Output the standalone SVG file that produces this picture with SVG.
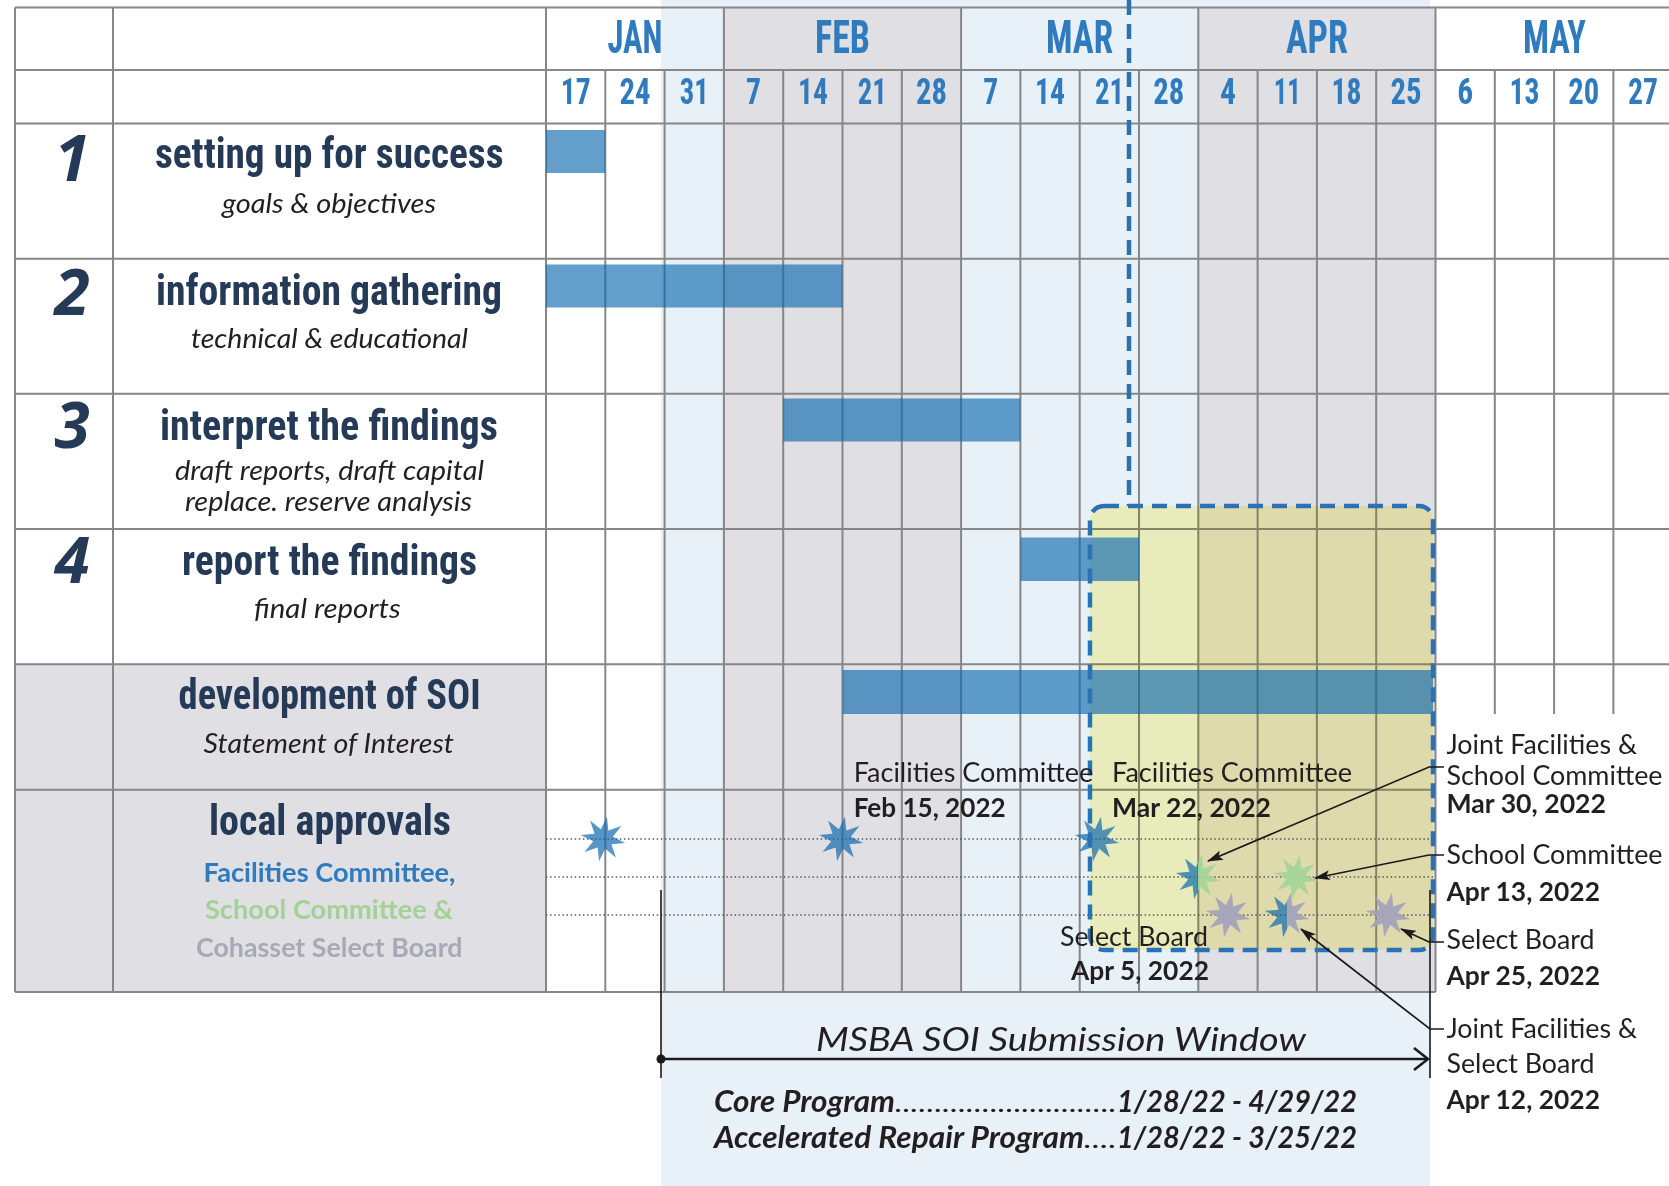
<svg xmlns="http://www.w3.org/2000/svg" xmlns:xlink="http://www.w3.org/1999/xlink" width="1669" height="1186" viewBox="0 0 1669 1186">
<style>
.grid{stroke:#878787;stroke-width:2;fill:none}
.cond{font-family:'Liberation Sans Narrow','Roboto Condensed',Roboto,sans-serif;font-weight:bold}
.mon{fill:#2f7bbd;font-size:47px}
.day{fill:#2f7bbd;font-size:36px;text-anchor:middle}
.ttl{fill:#253a57;font-size:43px}
.num{font-family:'Open Sans',sans-serif;font-weight:bold;font-style:italic;font-size:64px;fill:#253a57;text-anchor:middle}
.sub{font-family:Lato,'Open Sans',sans-serif;font-style:italic;font-size:27px;fill:#231f20}
.leg{font-family:Lato,'Open Sans',sans-serif;font-weight:bold;font-size:27px}
.ann{font-family:Lato,'Open Sans',sans-serif;font-size:27px;fill:#231f20}
.b{font-weight:bold}
.bar{fill:#0967af;fill-opacity:0.63}
.sb{fill:#0f6aae;fill-opacity:0.7}
.sg{fill:#a4d497;fill-opacity:0.9}
.sy{fill:#a2a3bd;fill-opacity:0.92}
.dot{stroke:#5a5a5a;stroke-width:1.4;stroke-dasharray:1.5 2.6;fill:none}
.conn{stroke:#1a1a1a;stroke-width:1.7;fill:none}
.win{font-family:Lato,'Open Sans',sans-serif;font-style:italic;fill:#231f20}
</style>
<defs>
<path id="star" d="M3.91,-22.16 L5.37,-8.43 L18.43,-12.91 L9.76,-2.16 L22.16,3.91 L8.43,5.37 L12.91,18.43 L2.16,9.76 L-3.91,22.16 L-5.37,8.43 L-18.43,12.91 L-9.76,2.16 L-22.16,-3.91 L-8.43,-5.37 L-12.91,-18.43 L-2.16,-9.76 Z"/>
<clipPath id="leftHalf"><rect x="-30" y="-30" width="30" height="60"/></clipPath>
<clipPath id="rightHalf"><rect x="0" y="-30" width="30" height="60"/></clipPath>
<marker id="ah" viewBox="0 0 16 10" refX="15" refY="5" markerWidth="16" markerHeight="10" markerUnits="userSpaceOnUse" orient="auto">
<path d="M0,0 L16,5 L0,10 L3.5,5 Z" fill="#1a1a1a"/>
</marker>
</defs>

<g id="background">
<rect x="0" y="0" width="1669" height="1186" fill="#ffffff"/>
<rect x="661" y="0" width="769" height="1186" fill="#e8f0f8"/>
<rect x="723.9" y="7.5" width="237.2" height="984.5" fill="#dfdfe4"/>
<rect x="1198.3" y="7.5" width="237.2" height="984.5" fill="#dfdfe4"/>
<rect x="15" y="664.2" width="531" height="327.8" fill="#dfdfe4"/>
</g>

<g id="grid" class="grid">
<path d="M15,7.5V992 M113,7.5V992 M546,7.5V992 M723.9,7.5V992 M961.1,7.5V992 M1198.3,7.5V992 M1435.5,7.5V992
M605.3,70V992 M664.6,70V992 M783.2,70V992 M842.5,70V992 M901.8,70V992 M1020.4,70V992 M1079.7,70V992 M1139,70V992 M1257.6,70V992 M1316.9,70V992 M1376.2,70V992
M1494.8,70V714 M1554.1,70V714 M1613.4,70V714"/>
<path d="M15,7.5H1669 M15,70H1669 M15,123.5H1669 M15,258.7H1669 M15,393.8H1669 M15,529H1669 M15,664.2H1669 M15,789.8H1435.5 M15,992H1435.5"/>
</g>

<g id="soi-window-highlight">
<rect x="1090" y="506" width="343" height="444" rx="14" fill="#fffabf" style="mix-blend-mode:multiply"/>
</g>

<g id="approval-guides">
<path class="dot" d="M546,839H1433 M546,877H1433 M546,915H1433"/>
</g>

<g id="header">
<text class="cond mon" x="607.5" y="53" textLength="55" lengthAdjust="spacingAndGlyphs">JAN</text>
<text class="cond mon" x="815" y="53" textLength="55" lengthAdjust="spacingAndGlyphs">FEB</text>
<text class="cond mon" x="1046" y="53" textLength="67" lengthAdjust="spacingAndGlyphs">MAR</text>
<text class="cond mon" x="1286" y="53" textLength="62" lengthAdjust="spacingAndGlyphs">APR</text>
<text class="cond mon" x="1523" y="53" textLength="63" lengthAdjust="spacingAndGlyphs">MAY</text>
<text class="cond day" x="575.7" y="104" textLength="30" lengthAdjust="spacingAndGlyphs">17</text>
<text class="cond day" x="635" y="104" textLength="31" lengthAdjust="spacingAndGlyphs">24</text>
<text class="cond day" x="694.3" y="104" textLength="29" lengthAdjust="spacingAndGlyphs">31</text>
<text class="cond day" x="753.6" y="104" textLength="15" lengthAdjust="spacingAndGlyphs">7</text>
<text class="cond day" x="812.9" y="104" textLength="30" lengthAdjust="spacingAndGlyphs">14</text>
<text class="cond day" x="872.2" y="104" textLength="29" lengthAdjust="spacingAndGlyphs">21</text>
<text class="cond day" x="931.5" y="104" textLength="31" lengthAdjust="spacingAndGlyphs">28</text>
<text class="cond day" x="990.8" y="104" textLength="15" lengthAdjust="spacingAndGlyphs">7</text>
<text class="cond day" x="1050.1" y="104" textLength="30" lengthAdjust="spacingAndGlyphs">14</text>
<text class="cond day" x="1109.4" y="104" textLength="29" lengthAdjust="spacingAndGlyphs">21</text>
<text class="cond day" x="1168.7" y="104" textLength="31" lengthAdjust="spacingAndGlyphs">28</text>
<text class="cond day" x="1228" y="104" textLength="16" lengthAdjust="spacingAndGlyphs">4</text>
<text class="cond day" x="1287.3" y="104" textLength="27" lengthAdjust="spacingAndGlyphs">11</text>
<text class="cond day" x="1346.6" y="104" textLength="30" lengthAdjust="spacingAndGlyphs">18</text>
<text class="cond day" x="1405.9" y="104" textLength="31" lengthAdjust="spacingAndGlyphs">25</text>
<text class="cond day" x="1465.2" y="104" textLength="16" lengthAdjust="spacingAndGlyphs">6</text>
<text class="cond day" x="1524.5" y="104" textLength="30" lengthAdjust="spacingAndGlyphs">13</text>
<text class="cond day" x="1583.8" y="104" textLength="31" lengthAdjust="spacingAndGlyphs">20</text>
<text class="cond day" x="1643.1" y="104" textLength="30" lengthAdjust="spacingAndGlyphs">27</text>
</g>

<g id="row-1">
<text class="num" x="72" y="181">1</text>
<text class="cond ttl" x="155" y="168" textLength="348.5" lengthAdjust="spacingAndGlyphs">setting up for success</text>
<text class="sub" x="222" y="212.7" textLength="214" lengthAdjust="spacingAndGlyphs">goals &amp; objectives</text>
<rect class="bar" x="546" y="130" width="59.3" height="43"/>
</g>

<g id="row-2">
<text class="num" x="72" y="315">2</text>
<text class="cond ttl" x="156" y="305" textLength="346" lengthAdjust="spacingAndGlyphs">information gathering</text>
<text class="sub" x="191" y="348.3" textLength="277" lengthAdjust="spacingAndGlyphs">technical &amp; educational</text>
<rect class="bar" x="546" y="264.5" width="296.5" height="43"/>
</g>

<g id="row-3">
<text class="num" x="72" y="448">3</text>
<text class="cond ttl" x="160" y="440" textLength="338" lengthAdjust="spacingAndGlyphs">interpret the findings</text>
<text class="sub" x="175" y="480" textLength="309" lengthAdjust="spacingAndGlyphs">draft reports, draft capital</text>
<text class="sub" x="185" y="510.7" textLength="287" lengthAdjust="spacingAndGlyphs">replace. reserve analysis</text>
<rect class="bar" x="783.2" y="398.5" width="237.2" height="43"/>
</g>

<g id="row-4">
<text class="num" x="72" y="583">4</text>
<text class="cond ttl" x="182" y="575" textLength="295" lengthAdjust="spacingAndGlyphs">report the findings</text>
<text class="sub" x="254" y="618" textLength="146.7" lengthAdjust="spacingAndGlyphs">final reports</text>
<rect class="bar" x="1020.4" y="537.5" width="118.6" height="43.5"/>
</g>

<g id="row-soi">
<text class="cond ttl" x="178.6" y="708.5" textLength="302" lengthAdjust="spacingAndGlyphs">development of SOI</text>
<text class="sub" x="203.6" y="752.7" textLength="250.4" lengthAdjust="spacingAndGlyphs">Statement of Interest</text>
<rect class="bar" x="842.5" y="670" width="590.5" height="44"/>
</g>

<g id="row-local-approvals">
<text class="cond ttl" x="209" y="835" textLength="242" lengthAdjust="spacingAndGlyphs">local approvals</text>
<text class="leg" x="203.6" y="881.7" fill="#2e7bbf" textLength="251.8" lengthAdjust="spacingAndGlyphs">Facilities Committee,</text>
<text class="leg" x="205" y="919.3" fill="#a3d196" textLength="248" lengthAdjust="spacingAndGlyphs">School Committee &amp;</text>
<text class="leg" x="196" y="956.7" fill="#a8a8b8" textLength="266.5" lengthAdjust="spacingAndGlyphs">Cohasset Select Board</text>
</g>

<g id="milestones">
<use href="#star" class="sb" transform="translate(603,839)"/>
<use href="#star" class="sb" transform="translate(841,839)"/>
<use href="#star" class="sb" transform="translate(1097,839)"/>
<g transform="translate(1198,877)">
<use href="#star" class="sb" clip-path="url(#leftHalf)"/>
<use href="#star" class="sg" clip-path="url(#rightHalf)"/>
</g>
<use href="#star" class="sg" transform="translate(1296,877)"/>
<use href="#star" class="sy" transform="translate(1228,915)"/>
<g transform="translate(1287,915)">
<use href="#star" class="sb" clip-path="url(#leftHalf)"/>
<use href="#star" class="sy" clip-path="url(#rightHalf)"/>
</g>
<use href="#star" class="sy" transform="translate(1388,915)"/>
</g>

<g id="soi-window-border">
<path d="M1129,0V506" stroke="#2a72b4" stroke-width="4.5" stroke-dasharray="15 9" fill="none"/>
<rect x="1090" y="506" width="343" height="444" rx="14" fill="none" stroke="#2a72b4" stroke-width="4.5" stroke-dasharray="15 9"/>
</g>

<g id="annotations">
<text class="ann" x="853.7" y="782" textLength="239.5" lengthAdjust="spacingAndGlyphs">Facilities Committee</text>
<text class="ann b" x="853.7" y="816.7" textLength="152" lengthAdjust="spacingAndGlyphs">Feb 15, 2022</text>
<text class="ann" x="1112" y="782" textLength="240" lengthAdjust="spacingAndGlyphs">Facilities Committee</text>
<text class="ann b" x="1112" y="816.7" textLength="159" lengthAdjust="spacingAndGlyphs">Mar 22, 2022</text>
<text class="ann" x="1060" y="946" textLength="148" lengthAdjust="spacingAndGlyphs">Select Board</text>
<text class="ann b" x="1071" y="980" textLength="138" lengthAdjust="spacingAndGlyphs">Apr 5, 2022</text>
<text class="ann" x="1446.5" y="754" textLength="190.5" lengthAdjust="spacingAndGlyphs">Joint Facilities &amp;</text>
<text class="ann" x="1446.5" y="785" textLength="216" lengthAdjust="spacingAndGlyphs">School Committee</text>
<text class="ann b" x="1446.5" y="813" textLength="159.5" lengthAdjust="spacingAndGlyphs">Mar 30, 2022</text>
<text class="ann" x="1446.5" y="864" textLength="216" lengthAdjust="spacingAndGlyphs">School Committee</text>
<text class="ann b" x="1446.5" y="900.5" textLength="153.5" lengthAdjust="spacingAndGlyphs">Apr 13, 2022</text>
<text class="ann" x="1446.5" y="949" textLength="148" lengthAdjust="spacingAndGlyphs">Select Board</text>
<text class="ann b" x="1446.5" y="984.6" textLength="153.5" lengthAdjust="spacingAndGlyphs">Apr 25, 2022</text>
<text class="ann" x="1446.5" y="1038" textLength="190.5" lengthAdjust="spacingAndGlyphs">Joint Facilities &amp;</text>
<text class="ann" x="1446.5" y="1073" textLength="148" lengthAdjust="spacingAndGlyphs">Select Board</text>
<text class="ann b" x="1446.5" y="1109" textLength="153.5" lengthAdjust="spacingAndGlyphs">Apr 12, 2022</text>
</g>

<g id="connectors">
<path class="conn" d="M1444,767 L1429,767 L1208,861" marker-end="url(#ah)"/>
<path class="conn" d="M1444,855 L1429,855 L1315,878" marker-end="url(#ah)"/>
<path class="conn" d="M1444,942 L1429,942 L1401,929" marker-end="url(#ah)"/>
<path class="conn" d="M1444,1029 L1430,1029 L1301,929" marker-end="url(#ah)"/>
<path d="M661,890V1078 M1430,890V1078" stroke="#1a1a1a" stroke-width="1.6" fill="none"/>
<path d="M661,1059H1428" stroke="#1a1a1a" stroke-width="2.5" fill="none"/>
<circle cx="661" cy="1059" r="4.5" fill="#1a1a1a"/>
<path d="M1414,1048 L1428,1059 L1414,1070" stroke="#1a1a1a" stroke-width="2.5" fill="none"/>
</g>

<g id="msba-window">
<text class="win" x="816" y="1050.5" font-size="32" textLength="490" lengthAdjust="spacingAndGlyphs">MSBA SOI Submission Window</text>
<text class="win b" x="714" y="1111.7" font-size="30" textLength="181" lengthAdjust="spacingAndGlyphs">Core Program</text>
<text class="win" x="895" y="1111.7" font-size="26" textLength="222" lengthAdjust="spacingAndGlyphs">............................</text>
<text class="win b" x="1117" y="1111.7" font-size="30" textLength="240" lengthAdjust="spacingAndGlyphs">1/28/22 - 4/29/22</text>
<text class="win b" x="714" y="1148" font-size="30" textLength="370" lengthAdjust="spacingAndGlyphs">Accelerated Repair Program</text>
<text class="win" x="1084" y="1148" font-size="26" textLength="33" lengthAdjust="spacingAndGlyphs">....</text>
<text class="win b" x="1117" y="1148" font-size="30" textLength="240" lengthAdjust="spacingAndGlyphs">1/28/22 - 3/25/22</text>
</g>
</svg>
